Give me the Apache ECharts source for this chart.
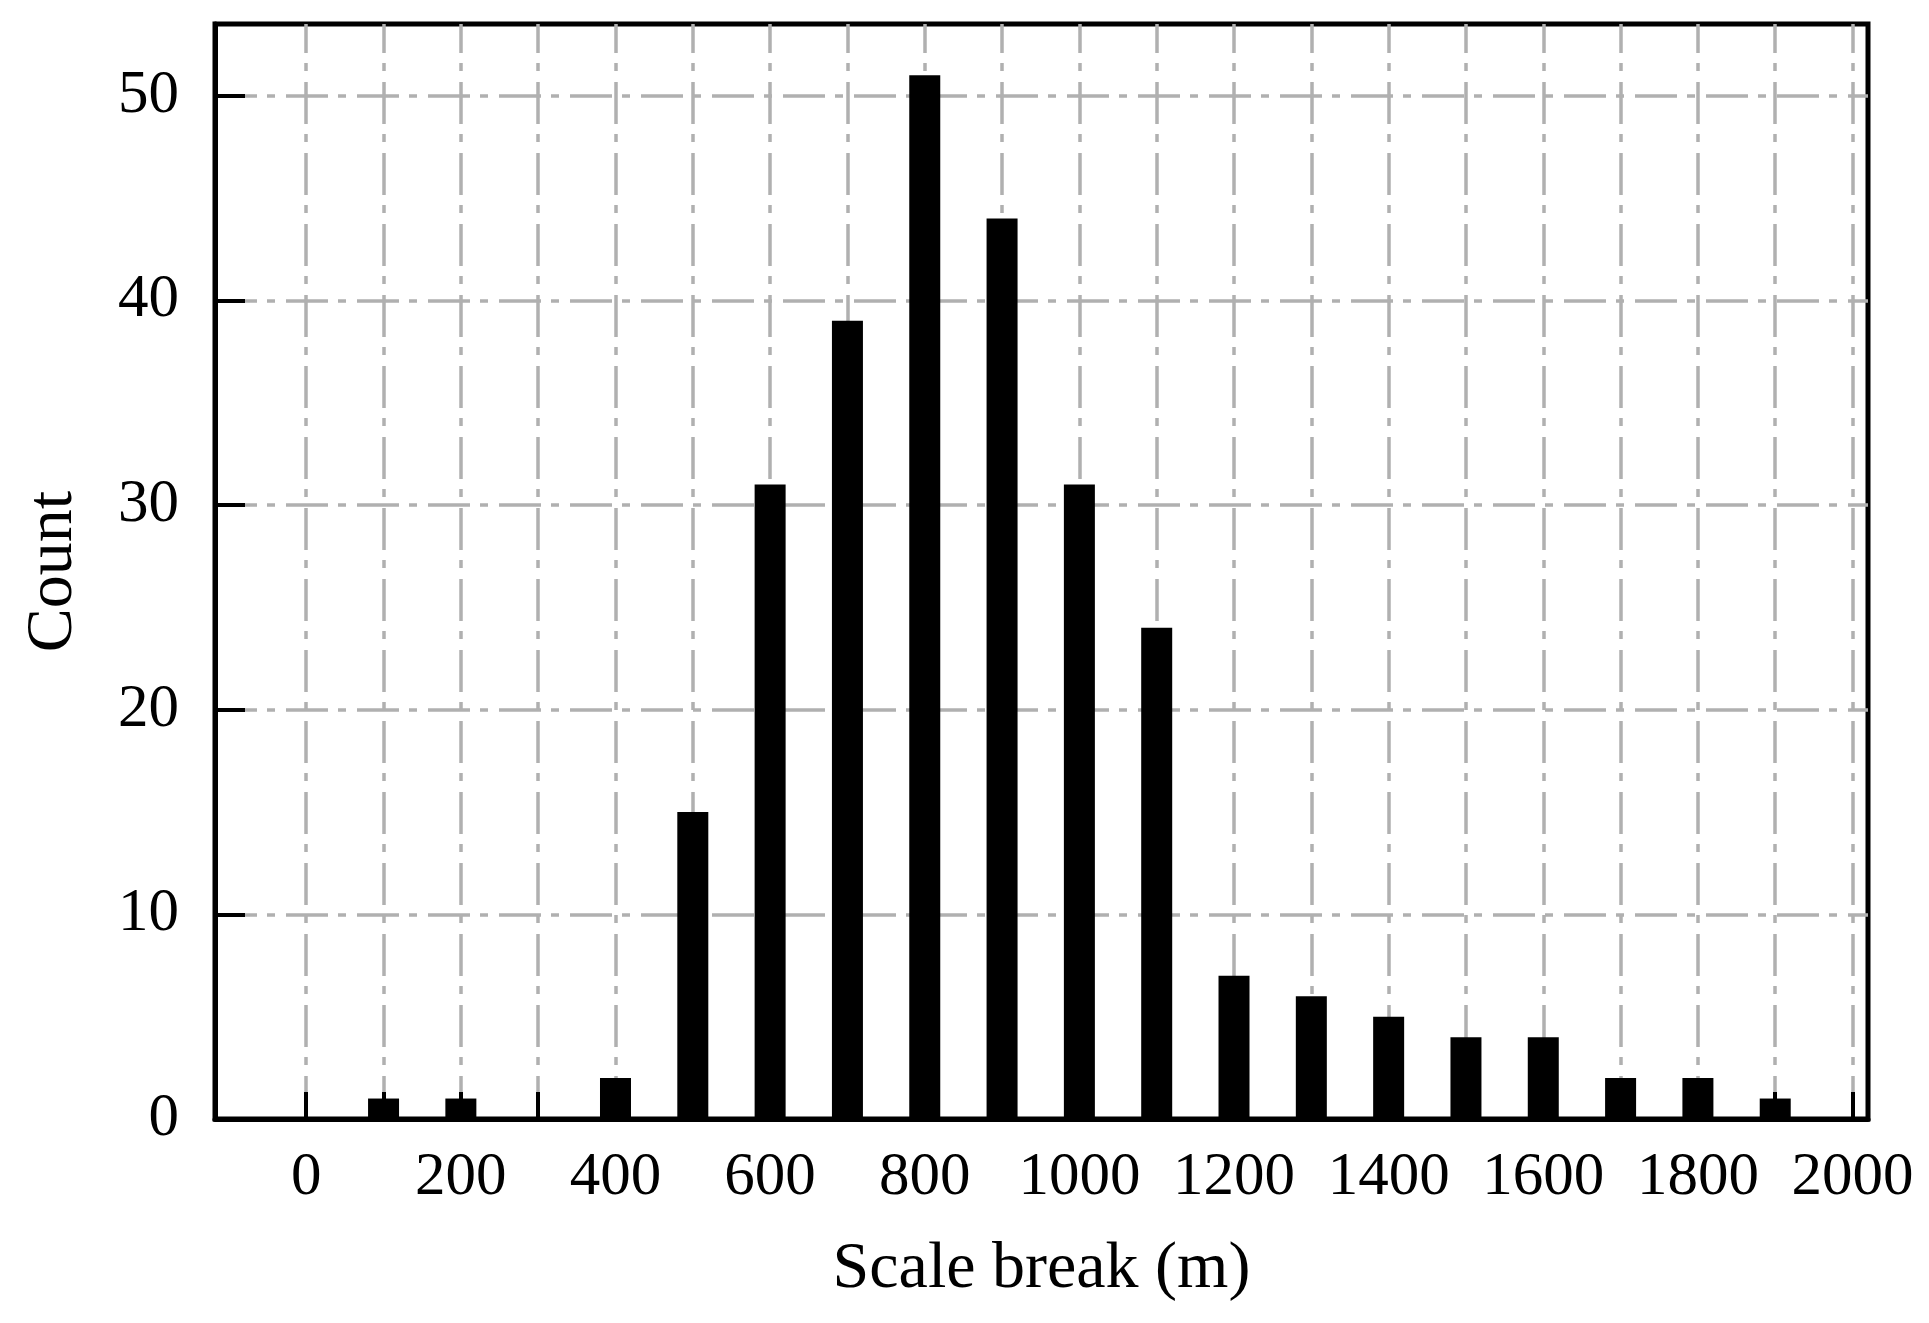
<!DOCTYPE html>
<html>
<head>
<meta charset="utf-8">
<script src="https://cdn.jsdelivr.net/npm/echarts@6/dist/echarts.min.js"></script>
<style>
html,body{margin:0;padding:0;background:#fff;}
#chart{width:1929px;height:1323px;}
</style>
</head>
<body>
<div id="chart"></div>
<script>
const binCenters = [0, 100, 200, 300, 400, 500, 600, 700, 800, 900, 1000, 1100, 1200, 1300, 1400, 1500, 1600, 1700, 1800, 1900, 2000];
const counts     = [0, 1, 1, 0, 2, 15, 31, 39, 51, 44, 31, 24, 7, 6, 5, 4, 4, 2, 2, 1, 0];
const xTickValues = [0, 100, 200, 300, 400, 500, 600, 700, 800, 900, 1000, 1100, 1200, 1300, 1400, 1500, 1600, 1700, 1800, 1900, 2000];
const xLabelValues = [0, 200, 400, 600, 800, 1000, 1200, 1400, 1600, 1800, 2000];
const xTitle = 'Scale break (m)';
const yTitle = 'Count';

const FONT = 'Liberation Serif';
const gridDash = [42, 10, 8, 11];

const chart = echarts.init(document.getElementById('chart'), null, {renderer: 'canvas'});
chart.setOption({
  backgroundColor: '#fff',
  animation: false,
  grid: {
    left: 215, right: 61, top: 24, bottom: 204,
    show: true, borderColor: '#000', borderWidth: 5, backgroundColor: 'transparent',
    containLabel: false
  },
  xAxis: {
    type: 'value',
    min: -118, max: 2020,
    name: xTitle,
    nameLocation: 'middle',
    nameGap: 118,
    nameTextStyle: {fontFamily: FONT, fontSize: 66, color: '#000'},
    axisLine: {show: true, onZero: false, lineStyle: {color: '#000', width: 5}},
    axisTick: {show: true, inside: true, length: 27, customValues: xTickValues,
      lineStyle: {color: '#000', width: 4}},
    axisLabel: {show: true, margin: 28, customValues: xLabelValues,
      formatter: v => String(v),
      fontFamily: FONT, fontSize: 61, color: '#000'},
    splitLine: {show: true, lineStyle: {color: '#b0b0b0', width: 3.5, type: gridDash, dashOffset: 13}}
  },
  yAxis: {
    type: 'value',
    min: 0, max: 53.5, interval: 10,
    name: yTitle,
    nameLocation: 'middle',
    nameGap: 128,
    nameTextStyle: {fontFamily: FONT, fontSize: 66, color: '#000'},
    axisLine: {show: true, onZero: false, lineStyle: {color: '#000', width: 5}},
    axisTick: {show: true, inside: true, length: 30, lineStyle: {color: '#000', width: 4}},
    axisLabel: {show: true, margin: 36, showMaxLabel: false,
      formatter: v => String(v),
      fontFamily: FONT, fontSize: 61, color: '#000'},
    splitLine: {show: true, showMaxLine: false, lineStyle: {color: '#b0b0b0', width: 3.5, type: gridDash}}
  },
  series: [{
    type: 'bar',
    data: binCenters.map((x, i) => [x, counts[i]]),
    barWidth: 31,
    itemStyle: {color: '#000'},
    z: 3
  }]
});
</script>
</body>
</html>
